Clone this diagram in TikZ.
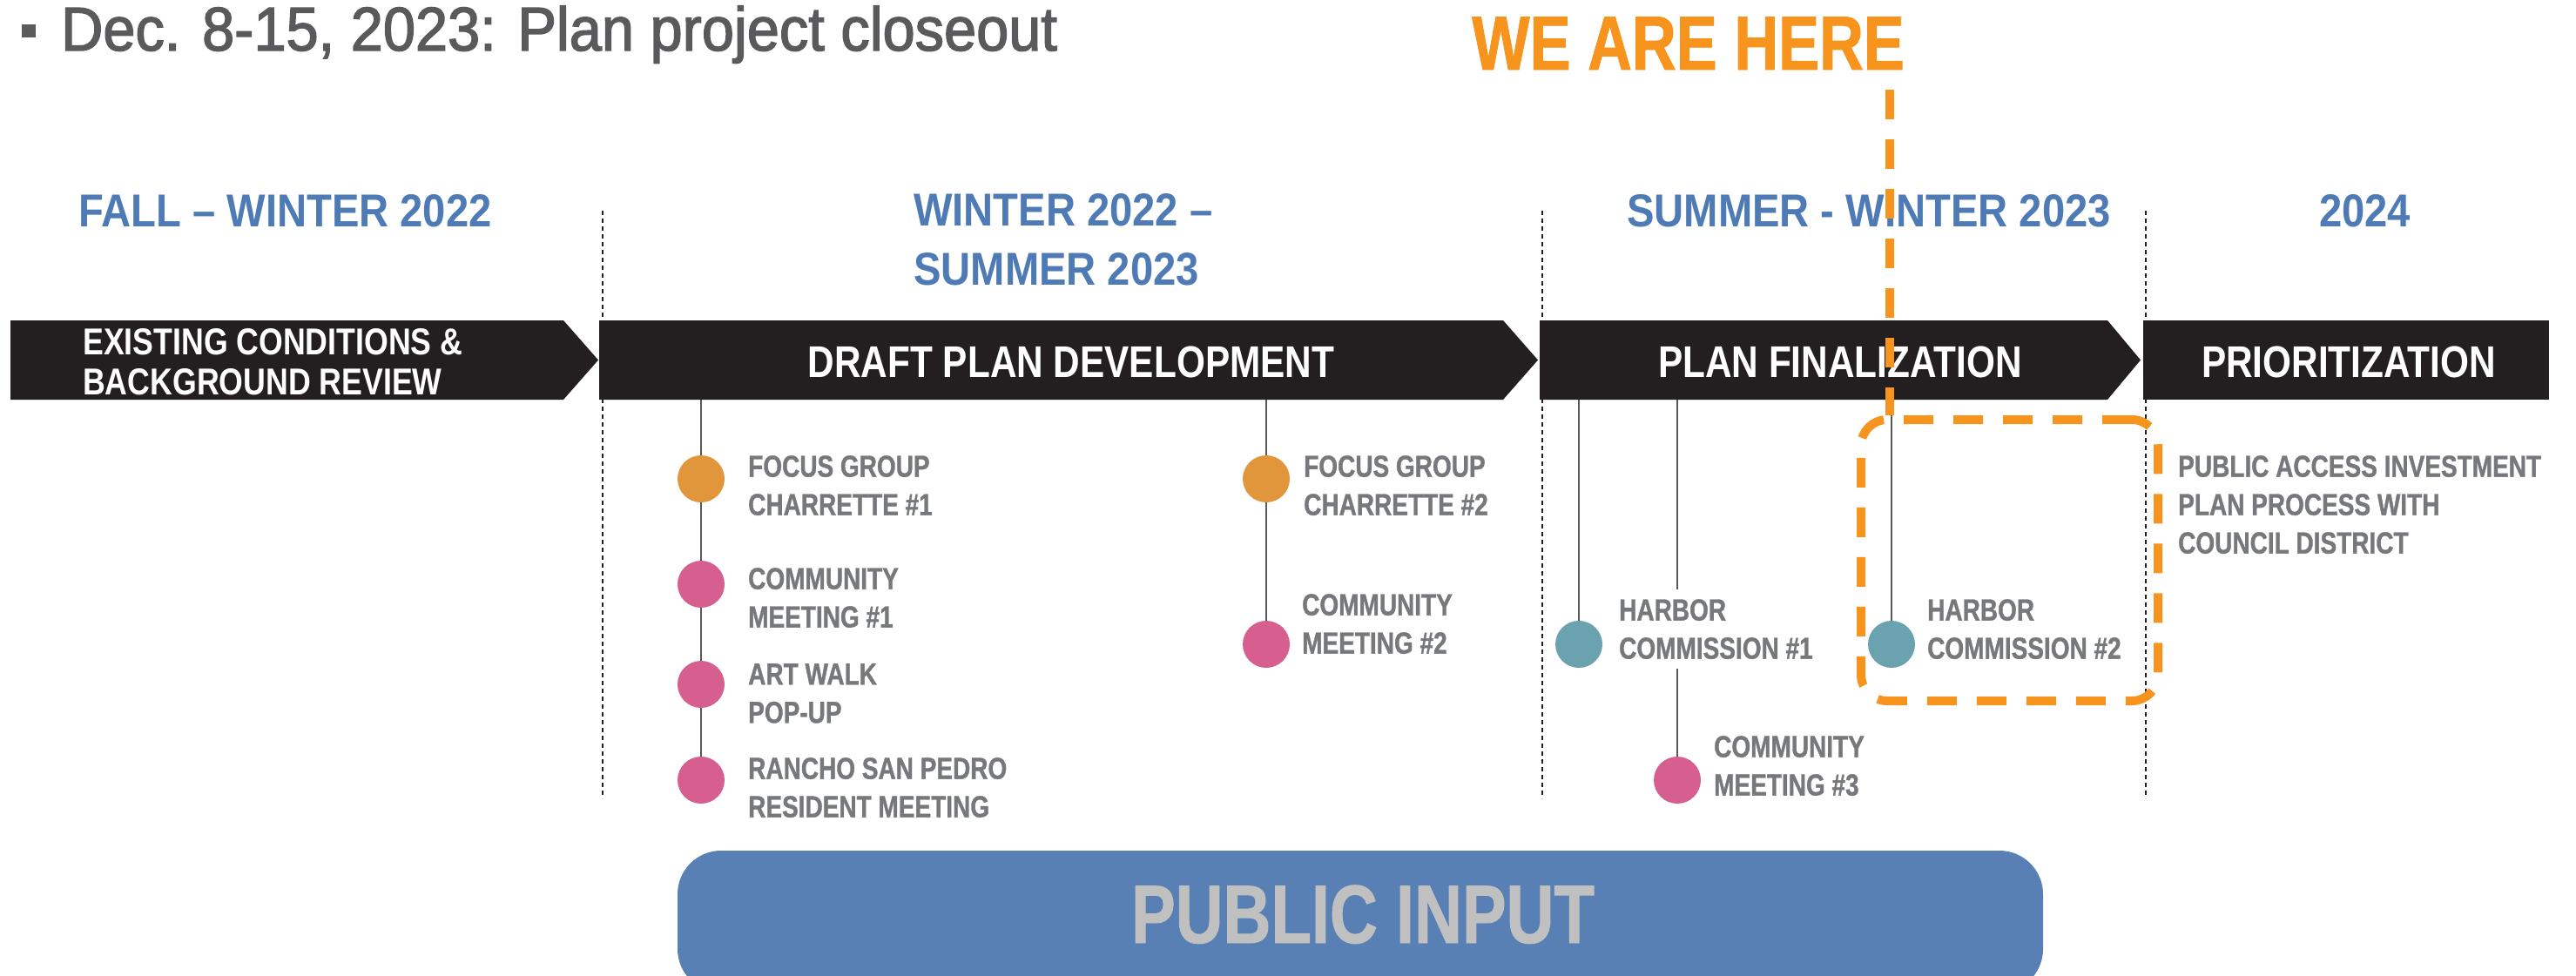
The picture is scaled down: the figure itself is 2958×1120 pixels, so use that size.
\documentclass[tikz,border=0pt]{standalone}
\usepackage{fontspec}
% condensed faces built from Liberation Sans
\newfontfamily\fLab[FakeStretch=0.80,FakeBold=1]{Liberation Sans}
\newfontfamily\fBar[FakeStretch=0.83]{Liberation Sans}
\newfontfamily\fHead[FakeStretch=0.89]{Liberation Sans}
\newfontfamily\fTitle[FakeStretch=0.94,FakeBold=2]{Liberation Sans}

\definecolor{barblack}{RGB}{35,31,32}
\definecolor{headblue}{RGB}{78,122,182}
\definecolor{labgray}{RGB}{119,120,123}
\definecolor{stemgray}{RGB}{88,89,91}
\definecolor{titlegray}{RGB}{90,90,92}
\definecolor{hereorange}{RGB}{247,148,29}
\definecolor{dotorange}{RGB}{226,150,59}
\definecolor{dotpink}{RGB}{214,95,143}
\definecolor{dotteal}{RGB}{106,163,175}
\definecolor{pubblue}{RGB}{89,128,181}
\definecolor{pubtext}{RGB}{192,192,192}

\pgfdeclarelayer{bg}
\pgfsetlayers{bg,main}

\begin{document}
\begin{tikzpicture}[x=1pt,y=-1pt,
  txt/.style={inner sep=0pt},
  evlabel/.style={txt, align=left, anchor=north west, text=labgray,
    font={\fLab\bfseries\fontsize{35}{44}\selectfont}},
  header/.style={txt, text=headblue, font={\fHead\bfseries\fontsize{53}{68}\selectfont}},
  bartext/.style={txt, text=white, font={\fBar\bfseries\fontsize{51}{56}\selectfont}},
  bar/.style={fill=barblack},
  evdot/.style={circle, minimum size=54pt, inner sep=0pt},
  stem/.style={draw=stemgray, line width=2.5pt},
  sepline/.style={draw=barblack, line width=2.2pt, dash pattern=on 5pt off 4pt},
  herodash/.style={draw=hereorange, line width=10pt, dash pattern=on 34pt off 23pt}
]
\clip (0,0) rectangle (2958,1120);
\begin{pgfonlayer}{bg}
\fill[white] (0,0) rectangle (2958,1120);
\end{pgfonlayer}

% title line
\fill[titlegray] (25,28) rectangle (41,43);
\node[txt, anchor=base west, text=titlegray,
  font={\fTitle\fontsize{71}{80}\selectfont}] (title) at (70,58)
  {Dec. 8-15, 2023: Plan project closeout};

% current-position marker text
\node[txt, anchor=base west, text=hereorange,
  font={\fLab\bfseries\fontsize{88}{96}\selectfont}] (here) at (1690,80) {WE ARE HERE};

% period headers
\node[header, anchor=base west] (p1) at (90,260) {FALL – WINTER 2022};
\node[header, anchor=north west, align=left] (p2) at (1049,222) {WINTER 2022 –\\SUMMER 2023};
\node[header, anchor=base west] (p3) at (1868,260) {SUMMER - WINTER 2023};
\node[header, anchor=base west] (p4) at (2663,260) {2024};

% phase bars
\fill[bar] (12,368) -- (647,368) -- (687,413.5) -- (647,459) -- (12,459) -- cycle;
\fill[bar] (688,368) -- (1726,368) -- (1766,413.5) -- (1726,459) -- (688,459) -- cycle;
\fill[bar] (1768,368) -- (2420,368) -- (2458,413.5) -- (2420,459) -- (1768,459) -- cycle;
\fill[bar] (2461,368) rectangle (2927,459);
\coordinate (barbot) at (0,459);

\node[txt, anchor=north west, align=left, text=white,
  font={\fBar\bfseries\fontsize{43}{46}\selectfont}] (ph1) at (95,377)
  {EXISTING CONDITIONS \&\\BACKGROUND REVIEW};
\node[bartext, anchor=base] (ph2) at (1230,433) {DRAFT PLAN DEVELOPMENT};
\node[bartext, anchor=base] (ph3) at (2113,433) {PLAN FINALIZATION};
\node[bartext, anchor=base] (ph4) at (2697,433) {PRIORITIZATION};

% period separators
\begin{pgfonlayer}{bg}
\draw[sepline] (692,242) -- (692,917);
\draw[sepline] (1771,242) -- (1771,917);
\draw[sepline] (2464,242) -- (2464,917);
\end{pgfonlayer}

% events
\node[evdot, fill=dotorange] (fg1) at (805,550) {};
\node[evdot, fill=dotpink] (cm1) at (805,671) {};
\node[evdot, fill=dotpink] (aw) at (805,786) {};
\node[evdot, fill=dotpink] (rsp) at (805,896) {};
\node[evdot, fill=dotorange] (fg2) at (1454,550) {};
\node[evdot, fill=dotpink] (cm2) at (1454,740) {};
\node[evdot, fill=dotteal] (hc1) at (1813,740) {};
\node[evdot, fill=dotteal] (hc2) at (2172,740) {};
\node[evdot, fill=dotpink] (cm3) at (1926,896) {};

\begin{pgfonlayer}{bg}
\draw[stem] (fg1 |- barbot) -- (rsp.center);
\draw[stem] (fg2 |- barbot) -- (cm2.center);
\draw[stem] (hc1 |- barbot) -- (hc1.center);
\draw[stem] (hc2 |- barbot) -- (hc2.center);
\draw[stem] (cm3 |- barbot) -- (cm3.center);
\end{pgfonlayer}

\node[evlabel] (lfg1) at (859,523) {FOCUS GROUP\\CHARRETTE \#1};
\node[evlabel] (lcm1) at (859,652) {COMMUNITY\\MEETING \#1};
\node[evlabel] (law) at (859,762) {ART WALK\\POP-UP};
\node[evlabel] (lrsp) at (859,870) {RANCHO SAN PEDRO\\RESIDENT MEETING};
\node[evlabel] (lfg2) at (1497,523) {FOCUS GROUP\\CHARRETTE \#2};
\node[evlabel] (lcm2) at (1495,682) {COMMUNITY\\MEETING \#2};
\node[evlabel, fill=white, inner xsep=4pt, inner ysep=11pt] (lhc1) at (1855,677) {HARBOR\\COMMISSION \#1};
\node[evlabel] (lhc2) at (2213,688) {HARBOR\\COMMISSION \#2};
\node[evlabel] (lcm3) at (1968,845) {COMMUNITY\\MEETING \#3};
\node[evlabel] (lpaip) at (2501,523) {PUBLIC ACCESS INVESTMENT\\PLAN PROCESS WITH\\COUNCIL DISTRICT};

% current-position highlight
\node[herodash, rounded corners=30pt, minimum width=341pt, minimum height=323pt,
  inner sep=0pt] (herebox) at (2307.5,643.5) {};
\coordinate (heretop) at (2170,103);
\draw[herodash] (heretop) -- (heretop |- herebox.north);

% public input band
\node[fill=pubblue, rounded corners=50pt, minimum width=1568pt, minimum height=163pt,
  inner sep=0pt] (pubin) at (1562,1058.5) {};
\node[txt, anchor=base, text=pubtext,
  font={\fLab\bfseries\fontsize{95}{100}\selectfont}] (pubtxt) at (1565,1083) {PUBLIC INPUT};
\end{tikzpicture}
\end{document}
